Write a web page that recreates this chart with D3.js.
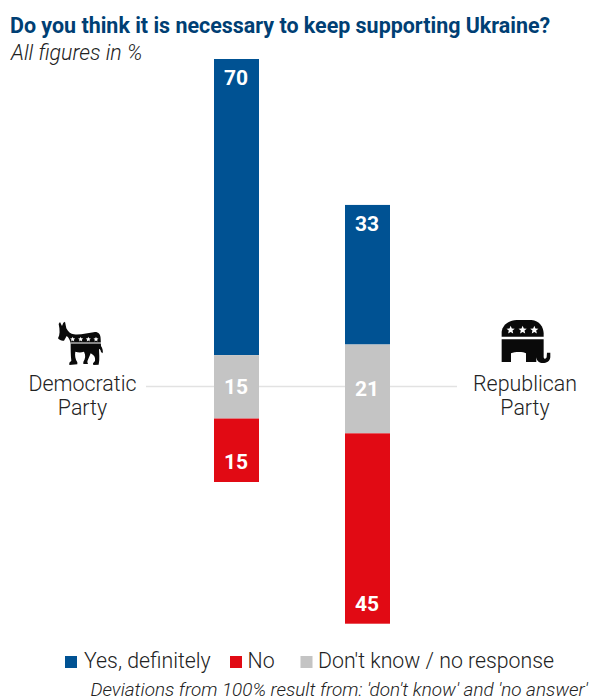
<!DOCTYPE html>
<html>
<head>
<meta charset="utf-8">
<script src="https://cdn.jsdelivr.net/npm/d3@7/dist/d3.min.js"></script>
<style>
html, body { margin: 0; padding: 0; background: #fff; }
svg { display: block; font-family: Roboto, sans-serif; }
</style>
</head>
<body>
<svg id="chart" width="590" height="700"></svg>
<script>
// Survey answers by party, in percent
const parties = ["Democratic Party", "Republican Party"];
const answers = ["Yes, definitely", "Don't know / no response", "No"];
const yesValues = [70, 33];
const unsureValues = [15, 21];
const noValues = [15, 45];
// Bars are shifted so that the neutral segments sit on a common line
const barOffsets = [0, 34.5];
const legendOrder = ["Yes, definitely", "No", "Don't know / no response"];

const answerColor = d3.scaleOrdinal()
  .domain(answers)
  .range(["#005293", "#c4c4c4", "#e10a14"]);

const svg = d3.select("#chart");

const x = d3.scaleBand().domain(parties).range([214, 390]).paddingInner(0.6565).paddingOuter(0);
const y = d3.scaleLinear().domain([0, 100]).range([59, 482]);

// Connector running behind the bars
svg.append("line")
  .attr("x1", 146).attr("x2", 457)
  .attr("y1", 386.5).attr("y2", 386.5)
  .attr("stroke", "#e2e2e2").attr("stroke-width", 1.5);

const rows = parties.map((party, i) => {
  const values = [yesValues[i], unsureValues[i], noValues[i]];
  let cursor = barOffsets[i];
  return values.map((value, j) => {
    const start = cursor;
    cursor += value;
    return { party, answer: answers[j], value, start, end: cursor };
  });
}).flat();

svg.selectAll("rect.segment")
  .data(rows)
  .join("rect")
  .attr("class", "segment")
  .attr("x", d => x(d.party))
  .attr("width", x.bandwidth())
  .attr("y", d => y(d.start))
  .attr("height", d => y(d.end) - y(d.start))
  .attr("fill", d => answerColor(d.answer));

// Values: top-aligned in the blue segment, centred in grey, bottom-aligned in red
function labelY(d) {
  if (d.answer === answers[0]) return y(d.start) + 26;
  if (d.answer === answers[2]) return y(d.end) - 13;
  return (y(d.start) + y(d.end)) / 2 + 7;
}
svg.selectAll("text.value")
  .data(rows)
  .join("text")
  .attr("class", "value")
  .attr("x", d => x(d.party) + x.bandwidth() / 2 - 0.5)
  .attr("y", labelY)
  .attr("text-anchor", "middle")
  .attr("font-size", 21)
  .attr("font-weight", 700)
  .attr("fill", "#fff")
  .text(d => d.value);

// Heading
svg.append("text")
  .attr("x", 10).attr("y", 33)
  .attr("font-size", 21.45).attr("font-weight", 700).attr("fill", "#003f74")
  .text("Do you think it is necessary to keep supporting Ukraine?");
svg.append("text")
  .attr("x", 11).attr("y", 60)
  .attr("font-size", 21.4).attr("font-weight", 300).attr("font-style", "italic").attr("fill", "#222")
  .text("All figures in %");

// Party names
const partyLabels = [
  { lines: ["Democratic", "Party"], cx: 82.5 },
  { lines: ["Republican", "Party"], cx: 525 }
];
partyLabels.forEach(p => {
  p.lines.forEach((line, k) => {
    svg.append("text")
      .attr("x", p.cx).attr("y", 391 + k * 24)
      .attr("text-anchor", "middle")
      .attr("font-size", 21.4).attr("font-weight", 300).attr("fill", "#222")
      .text(line);
  });
});

function star(g, cx, cy, r) {
  const pts = d3.range(10).map(i => {
    const a = -Math.PI / 2 + i * Math.PI / 5;
    const rad = i % 2 ? r * 0.45 : r;
    return [cx + rad * Math.cos(a), cy + rad * Math.sin(a)];
  });
  g.append("polygon").attr("points", pts.join(" ")).attr("fill", "#fff");
}

// Donkey emblem, outlined at three times its drawn size
const donkey = svg.append("g").attr("transform", "translate(0,300) scale(0.3333)");
donkey.append("path").attr("fill", "#0a0a0a").attr("d",
  "M176,72 L180,66 L186,78 L190,68 L195,65 L199,85 C204,95 212,102 222,103 " +
  "C240,106 265,98 285,96 C296,96 302,104 302,116 L303,138 C307,144 310,152 308,160 " +
  "L303,156 C302,150 300,147 297,146 C297,160 300,175 296,194 L280,195 L279,190 L285,183 " +
  "C287,172 282,165 272,160 C268,172 262,182 262,186 L264,192 L250,192 L250,186 " +
  "C256,176 258,166 252,155 C244,158 235,158 226,155 C224,166 226,178 232,187 L232,193 " +
  "L208,195 L208,188 L214,182 C212,165 212,145 212,130 C210,120 206,112 200,108 " +
  "L192,122 C186,124 178,120 174,115 C180,105 180,90 176,72 Z");
donkey.append("rect").attr("x", 212).attr("y", 127).attr("width", 91).attr("height", 4).attr("fill", "#fff").attr("opacity", 0.75);
[218, 242, 265, 288].forEach(cx => star(donkey, cx, 118, 8));

// Elephant emblem, outlined at three times its drawn size
const elephant = svg.append("g").attr("transform", "translate(400,300) scale(0.3333)");
elephant.append("path").attr("fill", "#0a0a0a").attr("d",
  "M305,110 L305,95 C308,75 325,62 350,60 L395,60 C418,62 430,80 431,100 L431,110 Z");
elephant.append("path").attr("fill", "#0a0a0a").attr("d",
  "M305,118 L431,118 L431,170 C431,178 438,178 440,172 L441,158 L451,158 L451,172 " +
  "C449,186 438,190 425,189 C415,188 410,180 409,172 L409,186 L378,186 L378,160 " +
  "C370,155 345,155 333,160 L333,186 L305,186 Z");
[332, 368, 403].forEach(cx => star(elephant, cx, 90, 13));

// Legend, laid out left to right
const legendBoxX = [65, 230, 300.5];
const legendTextX = [84, 247.5, 318];
legendOrder.forEach((label, i) => {
  svg.append("rect")
    .attr("x", legendBoxX[i]).attr("y", 656).attr("width", 12).attr("height", 12)
    .attr("fill", answerColor(label));
  svg.append("text")
    .attr("x", legendTextX[i]).attr("y", 668)
    .attr("font-size", 21.3).attr("font-weight", 300).attr("fill", "#222")
    .text(label);
});

// Footnote
svg.append("text")
  .attr("x", 588).attr("y", 696)
  .attr("text-anchor", "end")
  .attr("font-size", 18.9).attr("font-weight", 300).attr("font-style", "italic").attr("fill", "#222")
  .text("Deviations from 100% result from: 'don't know' and 'no answer'");
</script>
</body>
</html>
